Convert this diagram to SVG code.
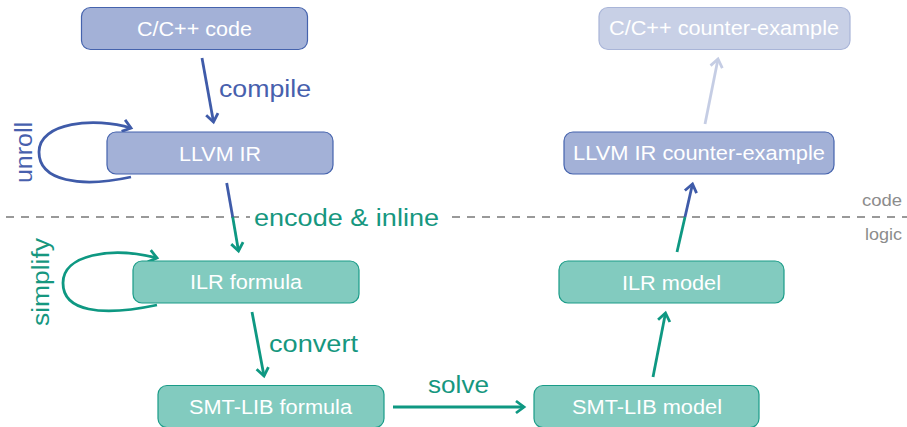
<svg xmlns="http://www.w3.org/2000/svg" width="907" height="427" viewBox="0 0 907 427">
  <style>
    .box-blue { fill: #a3b1d7; stroke: #4563ad; stroke-width: 1.2; }
    .box-teal { fill: #82cbbf; stroke: #1a9c88; stroke-width: 1.2; }
    .box-light { fill: #c8d0e6; stroke: #a9b5d8; stroke-width: 1.2; }
    .node-text { font-family: "Liberation Sans", Arial, sans-serif; font-size: 20px; fill: #ffffff; }
    .label { font-family: "Liberation Sans", Arial, sans-serif; font-size: 23px; }
    .lbl-blue { fill: #4760ad; }
    .lbl-teal { fill: #16977f; }
    .side { font-family: "Liberation Sans", Arial, sans-serif; font-size: 16px; fill: #8c8c8c; }
    .ln { fill: none; stroke-width: 2.8; stroke-linecap: butt; }
    .ln-blue { stroke: #3f5ba9; }
    .ln-teal { stroke: #0e9882; }
    .ln-light { stroke: #c5cde4; }
    .divider { stroke: #999999; stroke-width: 2; stroke-dasharray: 8 7; fill: none; }
  </style>
  <defs>
    <marker id="head-blue" markerUnits="userSpaceOnUse" orient="auto" markerWidth="20" markerHeight="20" refX="0" refY="0" viewBox="-12 -10 14 20" overflow="visible">
      <path d="M-8,-6 L0,0 L-8,6" fill="none" stroke="#3f5ba9" stroke-width="2.8"/>
    </marker>
    <marker id="head-teal" markerUnits="userSpaceOnUse" orient="auto" markerWidth="20" markerHeight="20" refX="0" refY="0" viewBox="-12 -10 14 20" overflow="visible">
      <path d="M-8,-6 L0,0 L-8,6" fill="none" stroke="#0e9882" stroke-width="2.8"/>
    </marker>
    <marker id="head-light" markerUnits="userSpaceOnUse" orient="auto" markerWidth="20" markerHeight="20" refX="0" refY="0" viewBox="-12 -10 14 20" overflow="visible">
      <path d="M-8,-6 L0,0 L-8,6" fill="none" stroke="#c5cde4" stroke-width="2.8"/>
    </marker>
  </defs>

  <!-- code / logic divider -->
  <g id="divider">
    <line class="divider" x1="6" y1="217" x2="250" y2="217"/>
    <line class="divider" x1="452" y1="217" x2="907" y2="217"/>
    <text class="side" x="862" y="206" textLength="40" lengthAdjust="spacingAndGlyphs">code</text>
    <text class="side" x="865" y="240" textLength="37" lengthAdjust="spacingAndGlyphs">logic</text>
  </g>

  <!-- connectors -->
  <g id="connectors">
    <!-- compile -->
    <line class="ln ln-blue" x1="202" y1="58" x2="213.5" y2="122" marker-end="url(#head-blue)"/>
    <!-- unroll loop -->
    <path class="ln ln-blue" d="M131,177 C80,188 39,181 39,152 C39,122 95,117 131,128" marker-end="url(#head-blue)"/>
    <!-- encode & inline (blue above divider, teal below) -->
    <line class="ln ln-blue" x1="226.7" y1="183" x2="232.7" y2="217"/>
    <line class="ln ln-teal" x1="232.7" y1="217" x2="238.5" y2="251" marker-end="url(#head-teal)"/>
    <!-- simplify loop -->
    <path class="ln ln-teal" d="M157,305 C100,317 63,311 63,283 C63,255 110,246 157,258" marker-end="url(#head-teal)"/>
    <!-- convert -->
    <line class="ln ln-teal" x1="252" y1="312" x2="264" y2="376" marker-end="url(#head-teal)"/>
    <!-- solve -->
    <line class="ln ln-teal" x1="393" y1="407" x2="524" y2="407" marker-end="url(#head-teal)"/>
    <!-- SMT-LIB model to ILR model -->
    <line class="ln ln-teal" x1="653" y1="377" x2="665.5" y2="313" marker-end="url(#head-teal)"/>
    <!-- ILR model to LLVM IR counter-example -->
    <line class="ln ln-teal" x1="677" y1="252" x2="685" y2="217"/>
    <line class="ln ln-blue" x1="685" y1="217" x2="692.5" y2="184" marker-end="url(#head-blue)"/>
    <!-- LLVM IR counter-example to C/C++ counter-example -->
    <line class="ln ln-light" x1="705" y1="124" x2="718" y2="59" marker-end="url(#head-light)"/>

    <text class="label lbl-blue" x="219" y="97" textLength="92" lengthAdjust="spacingAndGlyphs">compile</text>
    <text class="label lbl-blue" transform="translate(31.5,183) rotate(-90)" textLength="61" lengthAdjust="spacingAndGlyphs">unroll</text>
    <text class="label lbl-teal" x="254" y="226" textLength="185" lengthAdjust="spacingAndGlyphs">encode &amp; inline</text>
    <text class="label lbl-teal" transform="translate(48.5,326) rotate(-90)" textLength="88" lengthAdjust="spacingAndGlyphs">simplify</text>
    <text class="label lbl-teal" x="269" y="352" textLength="89" lengthAdjust="spacingAndGlyphs">convert</text>
    <text class="label lbl-teal" x="428" y="393" textLength="61" lengthAdjust="spacingAndGlyphs">solve</text>
  </g>

  <!-- nodes -->
  <g id="c-code">
    <rect class="box-blue" x="81.5" y="7.5" width="226" height="42" rx="9"/>
    <text class="node-text" x="137" y="36" textLength="115" lengthAdjust="spacingAndGlyphs">C/C++ code</text>
  </g>
  <g id="llvm-ir">
    <rect class="box-blue" x="107" y="132" width="226" height="42" rx="9"/>
    <text class="node-text" x="179" y="161" textLength="82" lengthAdjust="spacingAndGlyphs">LLVM IR</text>
  </g>
  <g id="ilr-formula">
    <rect class="box-teal" x="133" y="261" width="226" height="42" rx="9"/>
    <text class="node-text" x="190" y="289" textLength="112" lengthAdjust="spacingAndGlyphs">ILR formula</text>
  </g>
  <g id="smtlib-formula">
    <rect class="box-teal" x="158" y="385.5" width="226" height="42" rx="9"/>
    <text class="node-text" x="189" y="414" textLength="163" lengthAdjust="spacingAndGlyphs">SMT-LIB formula</text>
  </g>
  <g id="smtlib-model">
    <rect class="box-teal" x="534" y="385.5" width="225" height="42" rx="9"/>
    <text class="node-text" x="572" y="414" textLength="150" lengthAdjust="spacingAndGlyphs">SMT-LIB model</text>
  </g>
  <g id="ilr-model">
    <rect class="box-teal" x="559" y="261" width="225" height="42" rx="9"/>
    <text class="node-text" x="622" y="290" textLength="99" lengthAdjust="spacingAndGlyphs">ILR model</text>
  </g>
  <g id="llvm-counterexample">
    <rect class="box-blue" x="564" y="132" width="270" height="42" rx="9"/>
    <text class="node-text" x="573" y="160" textLength="252" lengthAdjust="spacingAndGlyphs">LLVM IR counter-example</text>
  </g>
  <g id="c-counterexample">
    <rect class="box-light" x="599" y="7.5" width="251" height="42" rx="9"/>
    <text class="node-text" x="609" y="35" textLength="230" lengthAdjust="spacingAndGlyphs">C/C++ counter-example</text>
  </g>
</svg>
